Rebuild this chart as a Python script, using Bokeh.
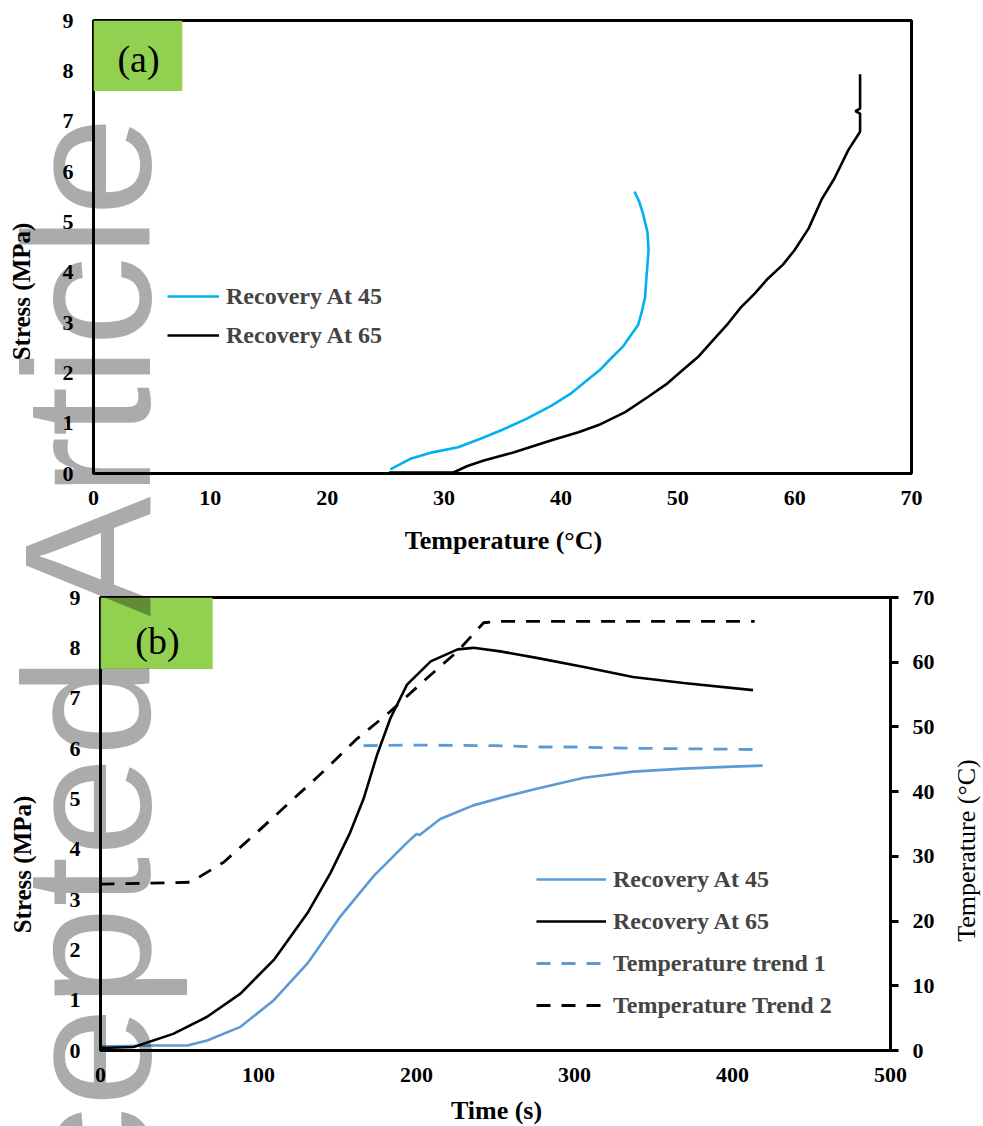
import math
from bokeh.plotting import figure
from bokeh.models import Range1d, LinearAxis, FixedTicker, Legend, LegendItem, Label, BoxAnnotation
from bokeh.embed import file_html
from bokeh.resources import INLINE

# ---------------- data: panel (a) stress vs temperature ----------------
a_temp_45 = [25.4, 27.2, 29.0, 31.2, 33.0, 34.9, 37.0, 39.2, 40.8, 42.0, 43.3, 44.3, 45.3, 46.0,
             46.6, 46.9, 47.2, 47.3, 47.5, 47.4, 47.0, 46.7, 46.3]
a_stress_45 = [0.08, 0.30, 0.42, 0.52, 0.68, 0.86, 1.08, 1.35, 1.58, 1.81, 2.05, 2.29, 2.52, 2.75,
               2.95, 3.19, 3.50, 3.84, 4.44, 4.80, 5.18, 5.40, 5.60]

a_temp_65 = [25.3, 30.8, 32.0, 33.4, 36.0, 39.2, 41.5, 43.4, 45.5, 47.5, 49.0, 50.3, 51.8, 53.1,
             54.3, 55.4, 56.6, 57.7, 59.0, 60.0, 61.2, 62.3, 63.4, 64.6, 65.6, 65.6, 65.2, 65.6, 65.6]
a_stress_65 = [0.02, 0.02, 0.15, 0.26, 0.42, 0.66, 0.82, 0.98, 1.22, 1.53, 1.77, 2.03, 2.33, 2.67,
               2.98, 3.30, 3.58, 3.87, 4.15, 4.44, 4.87, 5.44, 5.86, 6.43, 6.79, 7.15, 7.20, 7.25, 7.93]

a_xticks = [0, 10, 20, 30, 40, 50, 60, 70]
a_yticks = [0, 1, 2, 3, 4, 5, 6, 7, 8, 9]

# ---------------- data: panel (b) stress / temperature vs time ----------------
b_time_45 = [0, 30, 55, 67.5, 88.6, 109.7, 131, 152, 173, 194, 200, 202, 215, 236, 257, 276,
             306, 337, 369, 400, 419]
b_stress_45 = [0.08, 0.10, 0.10, 0.20, 0.47, 1.00, 1.73, 2.67, 3.47, 4.13, 4.30, 4.28, 4.60, 4.87,
               5.05, 5.20, 5.42, 5.54, 5.60, 5.64, 5.66]

b_time_65 = [0, 21, 46, 67.5, 88.6, 109.7, 131, 145.6, 158, 166.5, 175, 183.5, 194, 209, 226,
             236, 253, 276, 306, 337, 369, 413]
b_stress_65 = [0.05, 0.07, 0.33, 0.67, 1.13, 1.80, 2.73, 3.53, 4.33, 5.00, 5.87, 6.60, 7.27, 7.73,
               7.97, 8.00, 7.93, 7.80, 7.62, 7.42, 7.30, 7.16]

b_time_trend1 = [166.5, 200, 250, 278, 300, 337, 380, 418]
b_temp_trend1 = [47.1, 47.2, 47.1, 46.9, 46.9, 46.7, 46.6, 46.5]

b_time_trend2 = [0, 57, 78, 99, 120, 141, 162.5, 183.5, 204.6, 226, 242.5, 250, 414]
b_temp_trend2 = [25.7, 26.0, 29.1, 33.7, 38.4, 43.1, 48.2, 52.4, 57.1, 61.7, 66.1, 66.3, 66.3]

b_xticks = [0, 100, 200, 300, 400, 500]
b_yticks = [0, 1, 2, 3, 4, 5, 6, 7, 8, 9]
b_y2ticks = [0, 10, 20, 30, 40, 50, 60, 70]

SERIF = "Liberation Serif"
SANS = "Liberation Sans"
BLUE_A = "#00B0F0"
BLUE_B = "#5B9BD5"
GREEN = "#92D050"
DASH = "14 11"
PAGE_H = 1126


def style_axis(ax, ticks, standoff):
    ax.ticker = FixedTicker(ticks=ticks)
    ax.axis_line_color = "black"
    ax.axis_line_width = 3
    ax.major_tick_line_color = None
    ax.minor_tick_line_color = None
    ax.major_tick_out = 0
    ax.major_tick_in = 0
    ax.minor_tick_out = 0
    ax.minor_tick_in = 0
    ax.major_label_standoff = standoff
    ax.major_label_text_font = SERIF
    ax.major_label_text_font_style = "bold"
    ax.major_label_text_font_size = "22px"
    ax.major_label_text_color = "black"


def base_style(p):
    p.xgrid.visible = False
    p.ygrid.visible = False
    p.outline_line_color = "black"
    p.outline_line_width = 3
    p.background_fill_color = "white"
    p.border_fill_color = "white"


def make_legend(items, location, glyph_width, spacing):
    return Legend(items=items, location=location, glyph_width=glyph_width, glyph_height=30,
                  label_height=30, label_standoff=7, spacing=spacing, padding=0, margin=0,
                  border_line_color=None, background_fill_alpha=0, label_text_font=SERIF,
                  label_text_font_style="bold", label_text_font_size="24px")


# ---------------- panel (a) ----------------
pa = figure(width=983, height=560, output_backend="svg", toolbar_location=None,
            x_range=Range1d(0, 70), y_range=Range1d(0, 9),
            min_border_left=93, min_border_right=72, min_border_top=20, min_border_bottom=87,
            styles={"position": "absolute", "left": "0px", "top": "0px"})
base_style(pa)
style_axis(pa.xaxis[0], a_xticks, 17)
style_axis(pa.yaxis[0], a_yticks, 20)

pa.add_layout(BoxAnnotation(left=0, right=7.6, bottom=7.6, top=9, fill_color=GREEN, fill_alpha=1,
                            line_color=None))
ra45 = pa.line(a_temp_45, a_stress_45, line_color=BLUE_A, line_width=2.6)
ra65 = pa.line(a_temp_65, a_stress_65, line_color="black", line_width=2.6)
pa.add_layout(make_legend([LegendItem(label="Recovery At 45", renderers=[ra45]),
                           LegendItem(label="Recovery At 65", renderers=[ra65])],
                          (74, 123), 52, 9))
pa.add_layout(Label(x=45, y=415, x_units="screen", y_units="screen", text="(a)", text_font=SERIF,
                    text_font_size="38px", text_color="black", text_align="center",
                    text_baseline="middle"))

# ---------------- panel (b) ----------------
pb = figure(width=983, height=566, output_backend="svg", toolbar_location=None,
            x_range=Range1d(0, 500), y_range=Range1d(0, 9),
            min_border_left=100, min_border_right=93, min_border_top=37, min_border_bottom=76,
            styles={"position": "absolute", "left": "0px", "top": "560px"})
base_style(pb)
pb.extra_y_ranges = {"temp": Range1d(0, 70)}
style_axis(pb.xaxis[0], b_xticks, 17)
style_axis(pb.yaxis[0], b_yticks, 20)
ax2 = LinearAxis(y_range_name="temp")
pb.add_layout(ax2, "right")
style_axis(ax2, b_y2ticks, 14)
ax2.major_tick_line_color = "black"
ax2.major_tick_line_width = 3
ax2.major_tick_out = 8

pb.add_layout(BoxAnnotation(left=0, right=71, bottom=7.58, top=9, fill_color=GREEN, fill_alpha=1,
                            line_color=None))
rb45 = pb.line(b_time_45, b_stress_45, line_color=BLUE_B, line_width=2.6)
rb65 = pb.line(b_time_65, b_stress_65, line_color="black", line_width=2.6)
rt1 = pb.line(b_time_trend1, b_temp_trend1, y_range_name="temp", line_color=BLUE_B,
              line_width=2.8, line_dash=DASH)
rt2 = pb.line(b_time_trend2, b_temp_trend2, y_range_name="temp", line_color="black",
              line_width=2.8, line_dash=DASH)
pb.add_layout(make_legend([LegendItem(label="Recovery At 45", renderers=[rb45]),
                           LegendItem(label="Recovery At 65", renderers=[rb65]),
                           LegendItem(label="Temperature trend 1", renderers=[rt1]),
                           LegendItem(label="Temperature Trend 2", renderers=[rt2])],
                          (436, 30), 70, 12))
pb.add_layout(Label(x=57, y=410, x_units="screen", y_units="screen", text="(b)", text_font=SERIF,
                    text_font_size="38px", text_color="black", text_align="center",
                    text_baseline="middle"))

# ---------------- page overlay: axis titles and the journal watermark ----------------
wm = figure(width=983, height=PAGE_H, output_backend="svg", toolbar_location=None,
            x_range=Range1d(0, 983), y_range=Range1d(0, PAGE_H),
            x_axis_location=None, y_axis_location=None,
            min_border_left=0, min_border_right=0, min_border_top=0, min_border_bottom=0,
            styles={"position": "absolute", "left": "0px", "top": "0px",
                    "pointer-events": "none", "z-index": "10"})
wm.xgrid.visible = False
wm.ygrid.visible = False
wm.outline_line_color = None
wm.background_fill_color = None
wm.border_fill_color = None


def page_text(text, px, py, angle=0.0, bold=True, size="26px"):
    wm.add_layout(Label(x=px, y=PAGE_H - py, text=text, angle=angle, text_font=SERIF,
                        text_font_style="bold" if bold else "normal", text_font_size=size,
                        text_color="black", text_align="center", text_baseline="middle"))


page_text("Temperature (°C)", 503, 540)
page_text("Stress (MPa)", 21, 291, angle=math.pi / 2, size="25px")
page_text("Time (s)", 496, 1110)
page_text("Stress (MPa)", 22, 864, angle=math.pi / 2, size="25px")
page_text("Temperature (°C)", 966, 850, angle=math.pi / 2, bold=False, size="26px")

wm.add_layout(Label(x=87, y=PAGE_H - 106, text="Accepted Article", angle=math.pi / 2,
                    text_font=SANS, text_font_size="180px", text_color="black", text_alpha=0.33,
                    text_align="right", text_baseline="middle"))

open("out.html", "w").write(file_html([pa, pb, wm], INLINE))
